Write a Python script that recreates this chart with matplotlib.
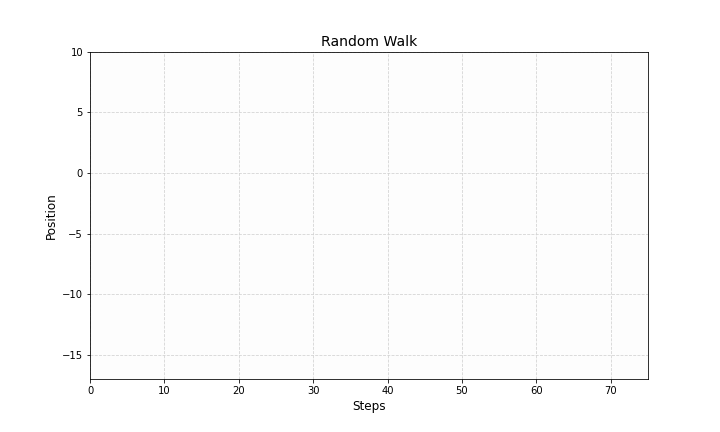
import matplotlib
matplotlib.use('Agg')
import matplotlib.pyplot as plt

# Walk data (the frame shows no points drawn yet)
steps = []
positions = []

# Axis ranges and ticks
x_range = [0, 75]
y_range = [-17, 10]
x_ticks = [0, 10, 20, 30, 40, 50, 60, 70]
y_ticks = [-15, -10, -5, 0, 5, 10]

fig, ax = plt.subplots(figsize=(10, 6), dpi=72)
fig.subplots_adjust(left=0.125, right=0.9, top=0.88, bottom=0.123)

# Empty walk line
ax.plot(steps, positions, color='tab:blue', lw=2)

ax.set_facecolor('#fdfdfd')
ax.set_xlim(x_range)
ax.set_ylim(y_range)
ax.set_xticks(x_ticks)
ax.set_yticks(y_ticks)
ax.grid(True, linestyle='--', color='#d3d3d3', linewidth=0.8)
ax.set_axisbelow(True)

ax.set_title('Random Walk', fontsize=14)
ax.set_xlabel('Steps', fontsize=12)
ax.set_ylabel('Position', fontsize=12)

plt.savefig('out.png', dpi=72)
